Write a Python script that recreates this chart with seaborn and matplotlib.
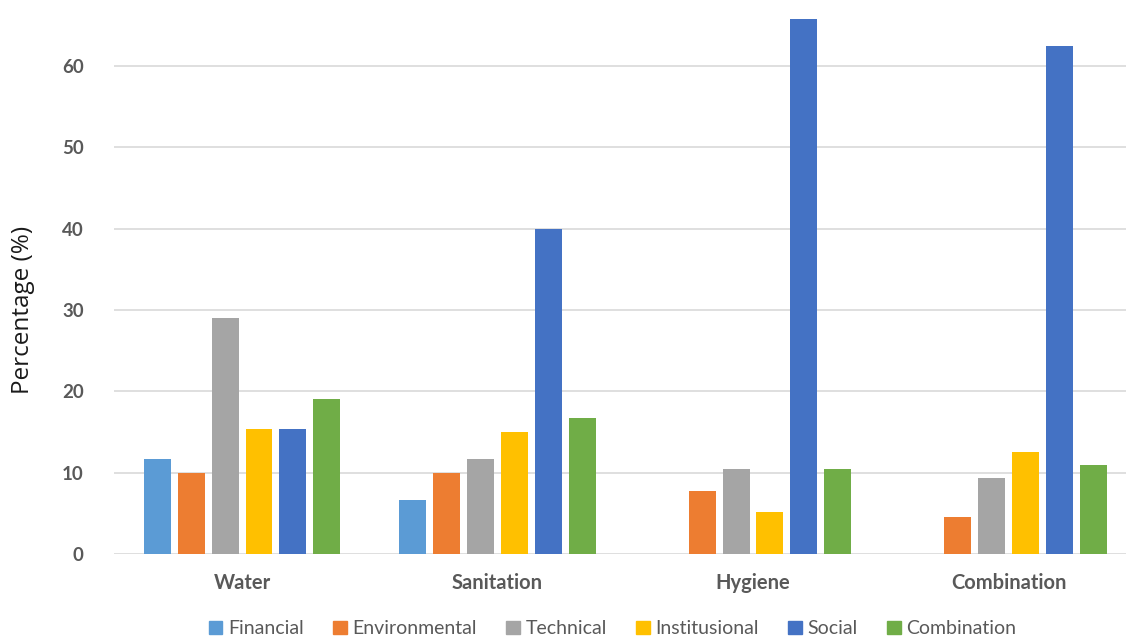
import matplotlib
matplotlib.use("Agg")
import matplotlib.pyplot as plt
import seaborn as sns
import pandas as pd

# Service areas on the x axis
categories = ["Water", "Sanitation", "Hygiene", "Combination"]

# Share of studies (%) by sustainability factor
financial = [11.7, 6.6, 0, 0]
environmental = [10.0, 10.0, 7.8, 4.6]
technical = [29.0, 11.7, 10.4, 9.3]
institutional = [15.4, 15.0, 5.2, 12.5]
social = [15.4, 40.0, 65.8, 62.5]
combination = [19.0, 16.7, 10.4, 10.9]

factors = ["Financial", "Environmental", "Technical", "Institusional", "Social", "Combination"]
series = [financial, environmental, technical, institutional, social, combination]
colors = ["#5B9BD5", "#ED7D31", "#A5A5A5", "#FFC000", "#4472C4", "#70AD47"]

rows = []
for factor, vals in zip(factors, series):
    for cat, v in zip(categories, vals):
        rows.append({"Area": cat, "Factor": factor, "Percentage": v})
df = pd.DataFrame(rows)

sns.set_theme(style="white")
plt.rcParams["font.family"] = ["Lato", "DejaVu Sans"]

fig = plt.figure(figsize=(11.26, 6.39), dpi=100)
# plot area runs slightly past the right edge of the canvas
ax = fig.add_axes([0.1015, 0.133, 0.9076, 0.867])

sns.barplot(data=df, x="Area", y="Percentage", hue="Factor",
            order=categories, hue_order=factors, palette=colors,
            saturation=1, width=0.795, gap=0.205, linewidth=0,
            errorbar=None, ax=ax, zorder=3)

ax.set_xlim(-0.5, 3.5)
ax.set_ylim(0, 68.1)
ax.set_yticks([0, 10, 20, 30, 40, 50, 60])
ax.yaxis.grid(True, color="#D9D9D9", linewidth=1.2, zorder=0)
ax.set_axisbelow(True)
for s in ax.spines.values():
    s.set_visible(False)
ax.tick_params(axis="both", length=0)
ax.tick_params(axis="y", pad=22)
ax.tick_params(axis="x", pad=14)
for lab in ax.get_yticklabels():
    lab.set_fontweight("bold")
    lab.set_fontsize(13.5)
    lab.set_color("#595959")
for lab in ax.get_xticklabels():
    lab.set_fontweight("bold")
    lab.set_fontsize(14.5)
    lab.set_color("#595959")

ax.set_xlabel("")
ax.set_ylabel("Percentage (%)", fontsize=17.5, color="#1a1a1a",
              family=["Open Sans", "DejaVu Sans"])
ax.yaxis.set_label_coords(-0.078, 0.44)

ax.get_legend().remove()
handles = [plt.Rectangle((0, 0), 1, 1, color=c) for c in colors]
leg = fig.legend(handles, factors, loc="center", bbox_to_anchor=(0.544, 0.016),
                 ncol=6, frameon=False, fontsize=14, handlelength=0.7,
                 handleheight=0.7, handletextpad=0.3, columnspacing=1.5)
for t in leg.get_texts():
    t.set_color("#595959")

fig.savefig("out.png", dpi=100)
